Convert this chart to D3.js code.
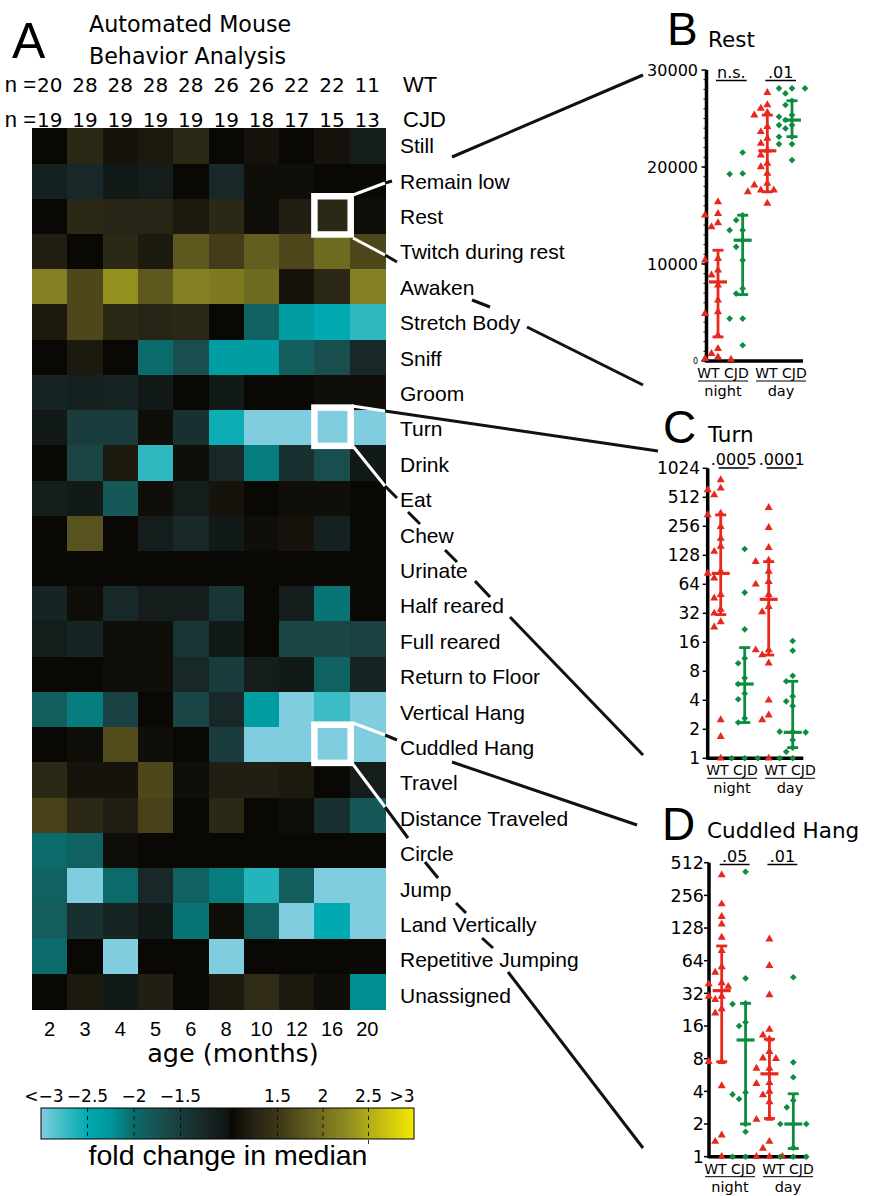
<!DOCTYPE html>
<html><head><meta charset="utf-8">
<script src="https://cdn.jsdelivr.net/npm/d3@7"></script>
<style>
html,body{margin:0;padding:0;background:#fff;}
svg{display:block;}
</style></head><body>
<svg id="fig" width="873" height="1196"></svg>
<script>
// ---------------- DATA ----------------
const ages = ["2","3","4","5","6","8","10","12","16","20"];
const nWT  = [20,28,28,28,28,26,26,22,22,11];
const nCJD = [19,19,19,19,19,19,18,17,15,13];
const behaviors = ["Still","Remain low","Rest","Twitch during rest","Awaken","Stretch Body","Sniff","Groom","Turn","Drink","Eat","Chew","Urinate","Half reared","Full reared","Return to Floor","Vertical Hang","Cuddled Hang","Travel","Distance Traveled","Circle","Jump","Land Vertically","Repetitive Jumping","Unassigned"];
// fold change in median (CJD vs WT); negative = decrease, |value|<=1 = no change
const foldChange = [
  [1, 1.3, 1.1, 1.15, 1.3, 1, 1.1, 1, 1.1, -1.1],
  [-1.15, -1.25, -1.05, -1.1, 1, -1.25, 1.05, 1.05, 1, 1],
  [1, 1.3, 1.25, 1.25, 1.15, 1.3, 1.05, 1.2, 1.3, 1.05],
  [1.2, 1, 1.3, 1.15, 1.8, 1.55, 1.85, 1.65, 1.95, 1.65],
  [2.15, 1.65, 2.3, 1.8, 2.15, 2.1, 1.95, 1.1, 1.3, 2.15],
  [1.15, 1.65, 1.3, 1.25, 1.3, 1, -1.9, -2.35, -2.5, -2.7],
  [1, 1.15, 1, -2.0, -1.7, -2.35, -2.35, -1.85, -1.7, -1.25],
  [-1.2, -1.15, -1.2, -1.05, 1, -1.05, 1, 1, 1.05, 1.05],
  [-1.05, -1.5, -1.5, 1.05, -1.35, -2.55, -3, -3, -3, -3],
  [1, -1.6, 1.15, -2.7, 1.05, -1.25, -2.1, -1.35, -1.7, -1.05],
  [-1.1, -1.05, -1.8, 1.05, -1.1, 1.1, 1, 1.05, 1.05, 1],
  [1, 1.75, 1, -1.1, -1.25, -1.05, 1.05, 1.1, -1.15, 1],
  [1, 1, 1, 1, 1, 1, 1, 1, 1, 1],
  [-1.2, 1.05, -1.25, -1.1, -1.1, -1.4, 1, -1.1, -2.05, 1],
  [-1.1, -1.2, 1.05, 1.05, -1.4, -1.05, 1, -1.6, -1.6, -1.55],
  [1, 1, 1.05, 1.05, -1.25, -1.5, -1.1, -1.05, -1.9, -1.2],
  [-1.85, -2.1, -1.55, 1, -1.6, -1.25, -2.35, -3, -2.75, -3],
  [1, 1.05, 1.7, 1.05, 1, -1.5, -3, -3, -3, -3],
  [1.3, 1.1, 1.1, 1.65, 1.05, 1.2, 1.2, 1.15, 1, -1.1],
  [1.6, 1.3, 1.2, 1.6, 1, 1.3, 1, 1.05, -1.35, -1.8],
  [-2.0, -1.9, 1.05, 1, 1, 1, 1, 1, 1, 1],
  [-1.9, -3, -2.0, -1.25, -1.9, -2.1, -2.65, -1.85, -3, -3],
  [-1.85, -1.35, -1.2, -1.05, -2.05, 1.05, -1.9, -3, -2.5, -3],
  [-2.0, 1, -3, 1, 1, -3, 1, 1, 1, 1],
  [1, 1.15, -1.05, 1.2, 1, 1.15, 1.35, 1.15, 1.05, -2.2]
];
const colorbarTicks = [-3, -2.5, -2, -1.5, 1.5, 2, 2.5, 3];
const colorbarLabels = ["<\u22123", "\u22122.5", "\u22122", "\u22121.5", "1.5", "2", "2.5", ">3"];
const highlighted = [["Rest","16"],["Turn","16"],["Cuddled Hang","16"]];

const groups = ["WT night","CJD night","WT day","CJD day"];
// Panel B: Rest
const restValues = [
  [16410,14240,15030,15200,13830,10560,10390,8840,9360,7810,6260,5060,4890,2650,760,1270,410,240,150],
  [21500,19330,19270,15030,14520,13490,13490,11770,12450,10390,7470,6950,4370,4370,1620],
  [27660,26390,26040,25350,25600,24150,23630,22950,22430,21740,21230,20370,20020,19330,18300,18130,17610,17610,17440,16240],
  [28110,28110,28110,27590,26830,26390,25350,25180,24840,24320,24320,23980,23120,23120,22360,22360,20710]
];
const restMedian = [8150,12450,21670,24840];
const restLow = [2480,6850,17440,23120];
const restHigh = [11420,15030,25350,26830];
const restTicks = [0,10000,20000,30000];
const restSig = ["n.s.", ".01"];
// Panel C: Turn
const turnValues = [
  [776,610,635,541,349,336,254,192,158,140,87,83,74,50,46,35,32,26,23,2.5,1.68,1],
  [149,52.5,21.8,9.7,10.9,6.8,5.9,4.7,4.1,2.6,2.35,1,1,1],
  [400,248,154,113,110,87,68,64,50,37.5,33,13.3,13.3,11.8,9.7,4.0,2.8,2.5,1],
  [16.5,13.1,7.2,6.3,4.4,3.9,3.5,1.89,1.89,1.86,1.55,1.29,1.17,1,1]
];
const turnMedian = [83,5.9,44.7,1.86];
const turnLow = [31,2.35,11.8,1.29];
const turnHigh = [336,14.1,110,6.3];
const turnTicks = [1,2,4,8,16,32,64,128,256,512,1024];
const turnSig = [".0005", ".0001"];
// Panel D: Cuddled Hang
const cuddleValues = [
  [394,213,163,139,105,79,56,50,40,39,37,30,30,28,23,21,7.5,7.5,4.5,1.58,1.38,1],
  [423,44,25.5,25.9,17.3,16,3.9,3.75,3.4,2.0,1.7,1,1],
  [101,57.5,31,14.9,13.2,12.1,9.3,8.0,8.1,6.5,6.5,4.8,4.7,4.0,3.7,3.2,2.2,2.25,1.38,1.19,1,1,1],
  [45,7.4,5.4,3.3,2.85,2.0,2.0,2.0,1.21,1,1,1]
];
const cuddleMedian = [33.9,11.9,5.8,2.0];
const cuddleLow = [7.5,2.0,2.25,1.19];
const cuddleHigh = [87.5,25.9,12.1,3.8];
const cuddleTicks = [1,2,4,8,16,32,64,128,256,512];
const cuddleSig = [".05", ".01"];

// ---------------- DRAWING ----------------
const svg = d3.select("#fig");
const ARIAL = "'Liberation Sans', Arial, sans-serif";
const DEJA = "'DejaVu Sans', sans-serif";

const color = d3.scaleLinear()
  .domain([-3,-2.75,-2.5,-2.25,-2,-1.75,-1.5,-1.25,-1,1,1.25,1.5,1.75,2,2.25,2.5,3])
  .range(["#80cde0","#3cbcc4","#00aab0","#00969a","#0b6b6b","#185353","#1a3c3c","#182828","#111614",
          "#0a0805","#282416","#3c3616","#58521e","#747020","#8c8a20","#b0ac18","#f6e800"])
  .clamp(true);

// Panel A header
svg.append("text").attr("x",12).attr("y",58).attr("font-family",ARIAL).attr("font-size",50).text("A");
svg.append("text").attr("x",89).attr("y",31.5).attr("font-family",DEJA).attr("font-size",22.2).text("Automated Mouse");
svg.append("text").attr("x",89).attr("y",63.5).attr("font-family",DEJA).attr("font-size",22.2).text("Behavior Analysis");

const hx = d3.scaleBand().domain(ages).range([32,385]);
const hy = d3.scaleBand().domain(behaviors).range([128.3,1009]);
const ly = d3.scaleBand().domain(behaviors).range([128,1013]);

// n rows
svg.append("text").attr("x",36).attr("y",91.7).attr("text-anchor","end").attr("font-family",ARIAL).attr("font-size",22).text("n =");
svg.append("text").attr("x",36).attr("y",127).attr("text-anchor","end").attr("font-family",ARIAL).attr("font-size",22).text("n =");
svg.append("g").selectAll("text").data(nWT).join("text")
  .attr("x",(d,i)=>hx(ages[i])+hx.bandwidth()/2).attr("y",91.7).attr("text-anchor","middle")
  .attr("font-family",DEJA).attr("font-size",20).text(d=>d);
svg.append("g").selectAll("text").data(nCJD).join("text")
  .attr("x",(d,i)=>hx(ages[i])+hx.bandwidth()/2).attr("y",127).attr("text-anchor","middle")
  .attr("font-family",DEJA).attr("font-size",20).text(d=>d);
svg.append("text").attr("x",403).attr("y",92).attr("font-family",ARIAL).attr("font-size",22).text("WT");
svg.append("text").attr("x",403).attr("y",127).attr("font-family",ARIAL).attr("font-size",22).text("CJD");

// heatmap cells
const cells = [];
foldChange.forEach((row,r)=>row.forEach((v,c)=>cells.push({b:behaviors[r],a:ages[c],v})));
svg.append("g").attr("shape-rendering","crispEdges").selectAll("rect").data(cells).join("rect")
  .attr("x",d=>hx(d.a)).attr("y",d=>hy(d.b))
  .attr("width",hx.bandwidth()+0.6).attr("height",hy.bandwidth()+0.6)
  .attr("fill",d=>color(d.v));

// row labels
svg.append("g").selectAll("text").data(behaviors).join("text")
  .attr("x",400).attr("y",d=>ly(d)+ly.bandwidth()/2+7.5)
  .attr("font-family",ARIAL).attr("font-size",21).text(d=>d);

// age labels
svg.append("g").selectAll("text").data(ages).join("text")
  .attr("x",d=>hx(d)+hx.bandwidth()/2).attr("y",1036).attr("text-anchor","middle")
  .attr("font-family",ARIAL).attr("font-size",20).text(d=>d);
svg.append("text").attr("x",233).attr("y",1062).attr("text-anchor","middle")
  .attr("font-family",DEJA).attr("font-size",25.5).text("age (months)");

// connector lines
const white = [
  [[353,195],[385,183]],[[353,238],[385,255]],
  [[352,406],[385,411]],[[352,445],[385,486]],
  [[353,723],[385,735]],[[352,763],[385,807]]
];
const black = [
  [[385,183],[392,181]],[[452,157],[643,75]],[[385,255],[397,262]],[[472,300],[490,307]],[[527,327],[643,385]],
  [[385,411],[658,451]],[[385,486],[397,498]],[[408,512],[420,524]],[[445,550],[457,562]],[[475,581],[490,597]],[[510,617],[643,755]],
  [[385,735],[397,740]],[[452,762],[637,825]],[[385,807],[408,838]],[[425,862],[438,878]],[[456,903],[466,913]],[[482,938],[493,948]],[[508,972],[643,1148]]
];
svg.append("g").selectAll("line").data(black).join("line")
  .attr("x1",d=>d[0][0]).attr("y1",d=>d[0][1]).attr("x2",d=>d[1][0]).attr("y2",d=>d[1][1])
  .attr("stroke","#111").attr("stroke-width",3);
svg.append("g").selectAll("line").data(white).join("line")
  .attr("x1",d=>d[0][0]).attr("y1",d=>d[0][1]).attr("x2",d=>d[1][0]).attr("y2",d=>d[1][1])
  .attr("stroke","#fff").attr("stroke-width",3);

// highlight boxes
svg.append("g").selectAll("rect").data(highlighted).join("rect")
  .attr("x",d=>hx(d[1])).attr("y",d=>hy(d[0])-2.5)
  .attr("width",hx.bandwidth()+1).attr("height",hy.bandwidth()+3)
  .attr("fill","none").attr("stroke","#fff").attr("stroke-width",6.5);

// colorbar
const cbx = d3.scaleLinear().domain([-3,-1,1,3]).range([41,227,232,414]);
const cbTop = 1108, cbH = 31;
const px = d3.range(41,414,1);
svg.append("g").attr("shape-rendering","crispEdges").selectAll("rect").data(px).join("rect")
  .attr("x",d=>d).attr("y",cbTop).attr("width",1.2).attr("height",cbH)
  .attr("fill",d=>color(cbx.invert(d+0.5)));
svg.append("rect").attr("x",41).attr("y",cbTop).attr("width",373).attr("height",cbH)
  .attr("fill","none").attr("stroke","#000").attr("stroke-width",1);
svg.append("g").selectAll("line").data(colorbarTicks.slice(1,-1)).join("line")
  .attr("x1",d=>cbx(d)).attr("x2",d=>cbx(d)).attr("y1",cbTop)
  .attr("y2",d=>d===2.5?cbTop+cbH+7:cbTop+cbH)
  .attr("stroke","#000").attr("stroke-width",0.8).attr("stroke-dasharray","4,4");
svg.append("g").selectAll("text").data(colorbarTicks).join("text")
  .attr("x",(d,i)=>i===0?cbx(d)+3:(i===colorbarTicks.length-1?cbx(d)-12:cbx(d)))
  .attr("y",1101.5).attr("text-anchor","middle")
  .attr("font-family",DEJA).attr("font-size",17).text((d,i)=>colorbarLabels[i]);
svg.append("text").attr("x",228).attr("y",1165).attr("text-anchor","middle")
  .attr("font-family",ARIAL).attr("font-size",28.5).text("fold change in median");

// ---------- scatter panels ----------
const RED = "#e8281c", GREEN = "#0b8c3e";
function swarm(values, y, step, r){
  const placed = [];
  values.slice().sort((a,b)=>b-a).forEach(v=>{
    const py = y(v);
    for (const s of [0,-1,1,-2,2,-3,3]){
      const pxo = s*step;
      if (placed.every(p=>Math.hypot(p.px-pxo,p.py-py)>=r)){ placed.push({v,px:pxo,py}); break; }
    }
  });
  return placed;
}
function panel(cfg){
  const g = svg.append("g");
  const x = d3.scalePoint().domain(groups).range(cfg.xRange);
  const y = cfg.y;
  const y0 = y.range()[0], yTop = y.range()[1];
  g.append("text").attr("x",cfg.letterPos[0]).attr("y",cfg.letterPos[1]).attr("font-family",ARIAL).attr("font-size",46).text(cfg.letter);
  g.append("text").attr("x",cfg.titlePos[0]).attr("y",cfg.titlePos[1]).attr("font-family",DEJA).attr("font-size",21.5).text(cfg.title);
  if (cfg.minor){
    g.append("g").selectAll("line").data(cfg.minor).join("line")
      .attr("x1",cfg.axisX-3).attr("x2",cfg.axisX).attr("y1",d=>y(d)).attr("y2",d=>y(d))
      .attr("stroke","#000").attr("stroke-width",1);
  }
  g.append("g").selectAll("line").data(cfg.ticks).join("line")
    .attr("x1",cfg.axisX-5).attr("x2",cfg.axisX).attr("y1",d=>y(d)).attr("y2",d=>y(d))
    .attr("stroke","#000").attr("stroke-width",1.5);
  g.append("g").selectAll("text").data(cfg.ticks).join("text")
    .attr("x",cfg.axisX-cfg.labelGap).attr("y",d=>y(d))
    .attr("dy","0.36em").attr("text-anchor","end")
    .attr("font-family",DEJA)
    .attr("font-size",d=>(cfg.smallZero && d===0)?8:cfg.tickFont)
    .text(d=>d);
  g.append("line").attr("x1",cfg.axisX).attr("x2",cfg.axisX).attr("y1",yTop).attr("y2",y0+1.5)
    .attr("stroke","#000").attr("stroke-width",3.5);
  g.append("line").attr("x1",cfg.axisX).attr("x2",cfg.xEnd).attr("y1",y0).attr("y2",y0)
    .attr("stroke","#000").attr("stroke-width",3.5);
  const tri = d3.symbol().type(d3.symbolTriangle).size(28)();
  const dia = d3.symbol().type(d3.symbolSquare).size(22)();
  cfg.values.forEach((vals,gi)=>{
    const isWT = gi%2===0;
    const pts = swarm(vals,y,6.5,7);
    g.append("g").selectAll("path").data(pts).join("path")
      .attr("d",isWT?tri:dia)
      .attr("transform",d=>`translate(${x(groups[gi])+d.px},${d.py})`+(isWT?"":" rotate(45)"))
      .attr("fill",isWT?RED:GREEN);
  });
  groups.forEach((grp,gi)=>{
    const c = gi%2===0?RED:GREEN, cx = x(grp);
    g.append("line").attr("x1",cx).attr("x2",cx).attr("y1",y(cfg.lo[gi])).attr("y2",y(cfg.hi[gi])).attr("stroke",c).attr("stroke-width",2.8);
    [cfg.lo[gi],cfg.hi[gi]].forEach(v=>g.append("line").attr("x1",cx-5.5).attr("x2",cx+5.5).attr("y1",y(v)).attr("y2",y(v)).attr("stroke",c).attr("stroke-width",2.8));
    g.append("line").attr("x1",cx-9).attr("x2",cx+9).attr("y1",y(cfg.med[gi])).attr("y2",y(cfg.med[gi])).attr("stroke",c).attr("stroke-width",3.2);
  });
  [[0,1],[2,3]].forEach((pair,k)=>{
    const a = x(groups[pair[0]]), b = x(groups[pair[1]]);
    g.append("line").attr("x1",a-2).attr("x2",b+4).attr("y1",cfg.sigY+3).attr("y2",cfg.sigY+3).attr("stroke","#000").attr("stroke-width",1.5);
    g.append("text").attr("x",(a+b)/2+1).attr("y",cfg.sigY).attr("text-anchor","middle")
      .attr("font-family",DEJA).attr("font-size",16).text(cfg.sig[k]);
  });
  ["night","day"].forEach((lab,k)=>{
    const cxl = cfg.catX[k];
    g.append("text").attr("x",cxl).attr("y",y0+17).attr("text-anchor","middle")
      .attr("font-family",DEJA).attr("font-size",14).text("WT CJD");
    g.append("line").attr("x1",cxl-25).attr("x2",cxl+25).attr("y1",y0+20).attr("y2",y0+20).attr("stroke","#000").attr("stroke-width",1);
    g.append("text").attr("x",cxl).attr("y",y0+35).attr("text-anchor","middle")
      .attr("font-family",DEJA).attr("font-size",14.5).text(lab);
  });
}

panel({letter:"B", letterPos:[667,45], title:"Rest", titlePos:[708,47],
  y:d3.scaleLinear().domain([0,30000]).range([361,70]),
  ticks:restTicks, minor:d3.range(1000,30000,1000), smallZero:true, tickFont:16, labelGap:8.5,
  axisX:706.5, xEnd:803, xRange:[718,792],
  values:restValues, med:restMedian, lo:restLow, hi:restHigh,
  sig:restSig, sigY:77.5, catX:[723,781]});
panel({letter:"C", letterPos:[663,443], title:"Turn", titlePos:[708,441.5],
  y:d3.scaleLog().base(2).domain([1,1024]).range([758.3,468.3]),
  ticks:turnTicks, tickFont:17, labelGap:7.5,
  axisX:707.7, xEnd:803.3, xRange:[720.7,792.7],
  values:turnValues, med:turnMedian, lo:turnLow, hi:turnHigh,
  sig:turnSig, sigY:465, catX:[732,790]});
panel({letter:"D", letterPos:[662,840], title:"Cuddled Hang", titlePos:[707,838],
  y:d3.scaleLog().base(2).domain([1,512]).range([1156.7,862.7]),
  ticks:cuddleTicks, tickFont:17.5, labelGap:5,
  axisX:709, xEnd:805, xRange:[721.7,793.3],
  values:cuddleValues, med:cuddleMedian, lo:cuddleLow, hi:cuddleHigh,
  sig:cuddleSig, sigY:861.5, catX:[730,788]});
</script>
</body></html>
